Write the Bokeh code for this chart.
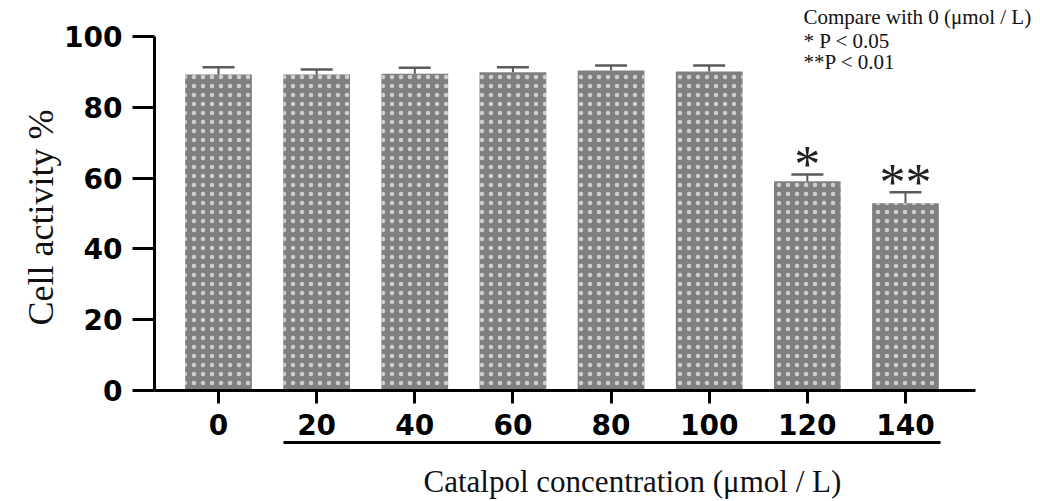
import math
from bokeh.plotting import figure
from bokeh.models import Range1d, FixedTicker, LinearAxis, Whisker, ColumnDataSource, Label, TeeHead
from bokeh.core.properties import value
from bokeh.embed import file_html
from bokeh.resources import INLINE

categories = ["0", "20", "40", "60", "80", "100", "120", "140"]
activity = [89.3, 89.3, 89.5, 89.9, 90.4, 90.1, 59.1, 52.9]
sd = [2.0, 1.4, 1.7, 1.4, 1.4, 1.7, 1.9, 3.1]
sig_marks = ["", "", "", "", "", "", "*", "**"]
legend_lines = ["Compare with 0 (\u03bcmol / L)", "* P < 0.05", "**P < 0.01"]
y_ticks = [0, 20, 40, 60, 80, 100]
y_title = "Cell activity %"
x_title = "Catalpol concentration (\u03bcmol / L)"

xs = list(range(len(categories)))
upper = [a + s for a, s in zip(activity, sd)]
src = ColumnDataSource(dict(x=xs, top=activity, upper=upper, mark=sig_marks))

# frame covers the whole canvas; axes are placed with fixed_location
X_LEFT, X_RIGHT = -2.2213, 8.3758
Y_BOTTOM, Y_TOP = -31.36, 110.17
Y_AXIS_AT = -0.6521
X_AXIS_END = 7.713

p = figure(frame_width=1040, frame_height=501, output_backend="svg", toolbar_location=None,
           x_range=Range1d(X_LEFT, X_RIGHT), y_range=Range1d(Y_BOTTOM, Y_TOP), min_border=0)
p.outline_line_color = None
p.xgrid.visible = False
p.ygrid.visible = False
p.background_fill_color = "white"
p.border_fill_color = "white"

p.vbar(x="x", top="top", width=0.68, source=src, fill_color="#7f7f7f", line_color=None,
       hatch_pattern="dot", hatch_color="#cfcfcf", hatch_scale=9, hatch_weight=1)

wh = Whisker(base="x", upper="upper", lower="top", source=src, dimension="height",
             line_color="#5a5a5a", line_width=2,
             upper_head=TeeHead(size=32, line_color="#5a5a5a", line_width=2.5), lower_head=None,
             level="glyph")
p.add_layout(wh)

p.text(x="x", y="upper", text="mark", source=src, text_align="center", text_baseline="alphabetic",
       y_offset=-10, text_font=value("Liberation Serif"), text_font_size="52px", text_color="#222222")

# y axis
ya = p.yaxis[0]
ya.fixed_location = Y_AXIS_AT
ya.bounds = (0, 100)
ya.ticker = FixedTicker(ticks=y_ticks)
ya.axis_line_width = 3
ya.axis_line_color = "black"
ya.major_tick_line_width = 3
ya.major_tick_out = 22
ya.major_tick_in = 0
ya.minor_tick_line_color = None
ya.major_label_standoff = 10
ya.major_label_text_font = "DejaVu Sans"
ya.major_label_text_font_style = "bold"
ya.major_label_text_font_size = "28px"
ya.major_label_text_color = "black"

# x axis
xa = p.xaxis[0]
xa.fixed_location = 0
xa.bounds = (Y_AXIS_AT, X_AXIS_END)
xa.ticker = FixedTicker(ticks=xs)
xa.major_label_overrides = {i: c for i, c in zip(xs, categories)}
xa.axis_line_width = 3
xa.axis_line_color = "black"
xa.major_tick_line_width = 3
xa.major_tick_out = 13
xa.major_tick_in = 0
xa.minor_tick_line_color = None
xa.major_label_standoff = 11
xa.major_label_text_font = "DejaVu Sans"
xa.major_label_text_font_style = "bold"
xa.major_label_text_font_size = "28px"
xa.major_label_text_color = "black"

# underline bracket below the treated groups
xa2 = LinearAxis(ticker=FixedTicker(ticks=[]), fixed_location=-14.69, bounds=(0.662, 7.357))
xa2.axis_line_width = 3
xa2.axis_line_color = "black"
xa2.major_tick_out = 0
xa2.major_tick_in = 0
xa2.minor_tick_line_color = None
xa2.major_label_text_font_size = "0px"
p.add_layout(xa2, "below")

p.add_layout(Label(x=-1.8137, y=48.87, text=y_title, angle=math.pi / 2, text_font="Liberation Serif",
                   text_font_size="36px", text_align="center", text_baseline="middle", text_color="#111111"))
p.add_layout(Label(x=4.218, y=-25.7, text=x_title, text_font="Liberation Serif",
                   text_font_size="31px", text_align="center", text_baseline="middle", text_color="#111111"))

legend_y = [105.4, 98.87, 92.66]
for txt, yy in zip(legend_lines, legend_y):
    p.add_layout(Label(x=5.961, y=yy, text=txt, text_font="Liberation Serif", text_font_size="21px",
                       text_baseline="middle", text_align="left", text_color="#111111"))

open("out.html", "w").write(file_html(p, INLINE))
